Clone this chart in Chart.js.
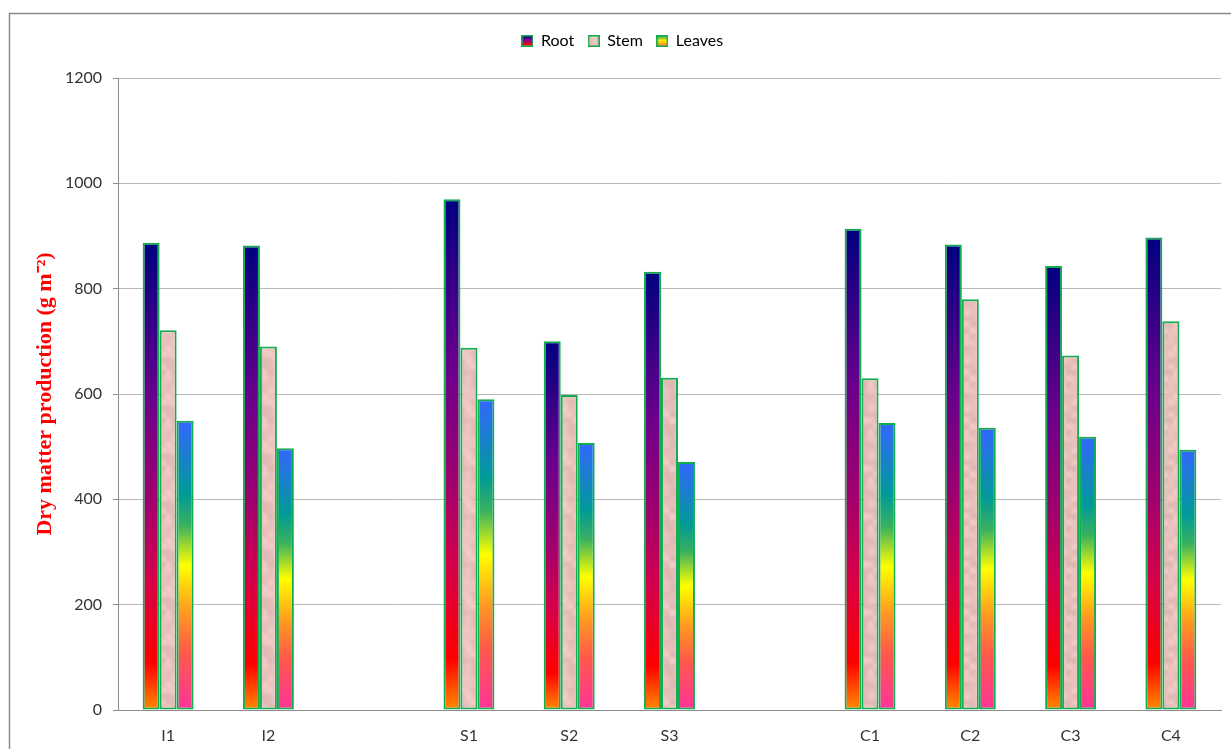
<!DOCTYPE html>
<html>
<head>
<meta charset="utf-8">
<script src="https://cdn.jsdelivr.net/npm/chart.js@4.4.1/dist/chart.umd.min.js"></script>
<style>
  html, body { margin: 0; padding: 0; background: #ffffff; }
  #wrap { width: 1231px; height: 749px; position: relative; }
</style>
</head>
<body>
<div id="wrap"><canvas id="chart" width="1231" height="749"></canvas></div>
<script>
// Treatments (empty slots separate the I, S and C groups)
const categories = ['I1', 'I2', '', 'S1', 'S2', 'S3', '', 'C1', 'C2', 'C3', 'C4'];
const seriesNames = ['Root', 'Stem', 'Leaves'];
// Dry matter production, g m-2
const rootValues   = [887, 882, null, 970, 700, 832, null, 914, 884, 843, 897];
const stemValues   = [721, 690, null, 688, 598, 631, null, 630, 780, 673, 738];
const leavesValues = [549, 497, null, 590, 507, 471, null, 545, 536, 519, 494];
const yMin = 0, yMax = 1200, yStep = 200;

const BORDER_GREEN = '#12ad50';
const ROOT_STOPS = [[0, '#000080'], [0.33, '#6a008c'], [0.55, '#a0006e'], [0.72, '#d5004a'], [0.9, '#ff0000'], [1, '#ff8c00']];
const LEAF_STOPS = [[0, '#3366ff'], [0.25, '#009a99'], [0.36, '#38b060'], [0.5, '#ffff00'], [0.66, '#ff9a20'], [0.8, '#ff5a4a'], [1, '#ff3399']];
const LEAF_SWATCH_STOPS = [[0, '#20a860'], [0.45, '#ffee00'], [1, '#ff7a30']];

// Soft mottled pink texture for the stem bars
function makeStemPattern() {
  const size = 48, cell = 6;
  const cv = document.createElement('canvas');
  cv.width = size; cv.height = size;
  const g = cv.getContext('2d');
  const img = g.createImageData(size, size);
  const n = size / cell;
  const hash = (x, y) => {
    const s = Math.sin(((x % n + n) % n) * 12.9898 + ((y % n + n) % n) * 78.233) * 43758.5453;
    return s - Math.floor(s);
  };
  const smooth = t => t * t * (3 - 2 * t);
  for (let y = 0; y < size; y++) {
    for (let x = 0; x < size; x++) {
      const gx = x / cell, gy = y / cell;
      const x0 = Math.floor(gx), y0 = Math.floor(gy);
      const tx = smooth(gx - x0), ty = smooth(gy - y0);
      const a = hash(x0, y0), b = hash(x0 + 1, y0), c = hash(x0, y0 + 1), d = hash(x0 + 1, y0 + 1);
      const v = (a * (1 - tx) + b * tx) * (1 - ty) + (c * (1 - tx) + d * tx) * ty;
      const k = (v - 0.5) * 22;
      const i = (y * size + x) * 4;
      img.data[i] = Math.min(255, 233 + k);
      img.data[i + 1] = Math.min(255, 194 + k);
      img.data[i + 2] = Math.min(255, 189 + k);
      img.data[i + 3] = 255;
    }
  }
  g.putImageData(img, 0, 0);
  return cv;
}
const stemTexture = makeStemPattern();
const stemPattern = document.getElementById('chart').getContext('2d').createPattern(stemTexture, 'repeat');

function addStops(grad, stops) {
  stops.forEach(([o, c]) => grad.addColorStop(o, c));
  return grad;
}

// Vertical gradient stretched over each bar's own height
function barGradient(stops) {
  return (ctx) => {
    const chart = ctx.chart;
    if (ctx.type !== 'data' || ctx.raw == null || !chart.chartArea) return stops[0][1];
    const y = chart.scales.y;
    const top = y.getPixelForValue(ctx.raw);
    const bottom = y.getPixelForValue(0);
    return addStops(chart.ctx.createLinearGradient(0, top, 0, bottom), stops);
  };
}

// Small legend swatches
function makeSwatch(fill) {
  const s = 12;
  const cv = document.createElement('canvas');
  cv.width = s; cv.height = s;
  const g = cv.getContext('2d');
  if (Array.isArray(fill)) {
    g.fillStyle = addStops(g.createLinearGradient(0, 1, 0, s - 1), fill);
  } else {
    g.fillStyle = g.createPattern(fill, 'repeat');
  }
  g.fillRect(1, 1, s - 2, s - 2);
  g.strokeStyle = BORDER_GREEN;
  g.lineWidth = 1.5;
  g.strokeRect(0.75, 0.75, s - 1.5, s - 1.5);
  return cv;
}
const swatches = [makeSwatch(ROOT_STOPS), makeSwatch(stemTexture), makeSwatch(LEAF_SWATCH_STOPS)];

// Extra room between the legend row and the plot
const LegendEl = Chart.registry.getPlugin('legend')._element;
const baseFit = LegendEl.prototype.fit;
LegendEl.prototype.fit = function () {
  baseFit.call(this);
  if (this.options.display && this.isHorizontal()) this.height += 19;
};

// Grey outline round the chart
const frame = {
  id: 'frame',
  beforeDraw(chart) {
    const c = chart.ctx;
    c.save();
    c.strokeStyle = '#8a8a8a';
    c.lineWidth = 1.5;
    c.strokeRect(9.5, 13.5, 1400, 900);
    c.restore();
  }
};

const barCommon = {
  borderColor: BORDER_GREEN,
  borderWidth: 2,
  borderSkipped: false,
  categoryPercentage: 0.508,
  barPercentage: 1.0
};

new Chart(document.getElementById('chart'), {
  type: 'bar',
  data: {
    labels: categories,
    datasets: [
      Object.assign({ label: seriesNames[0], data: rootValues, backgroundColor: barGradient(ROOT_STOPS) }, barCommon),
      Object.assign({ label: seriesNames[1], data: stemValues, backgroundColor: stemPattern }, barCommon),
      Object.assign({ label: seriesNames[2], data: leavesValues, backgroundColor: barGradient(LEAF_STOPS) }, barCommon)
    ]
  },
  options: {
    responsive: false,
    animation: false,
    devicePixelRatio: 1,
    layout: { padding: { left: 24, right: 10, top: 19, bottom: 4 } },
    plugins: {
      tooltip: { enabled: false },
      legend: {
        position: 'top',
        labels: {
          usePointStyle: true,
          boxWidth: 11,
          boxHeight: 11,
          padding: 14,
          color: '#1a1a1a',
          font: { family: 'Lato', size: 16 },
          generateLabels: (chart) => chart.data.datasets.map((ds, i) => ({
            text: ds.label,
            pointStyle: swatches[i],
            fillStyle: 'transparent',
            strokeStyle: 'transparent',
            lineWidth: 0,
            hidden: false,
            datasetIndex: i
          }))
        }
      }
    },
    scales: {
      x: {
        afterFit: (scale) => { scale.height = 35; },
        grid: { display: false, drawTicks: false },
        border: { display: true, color: '#8c8c8c', width: 1 },
        ticks: {
          autoSkip: false,
          maxRotation: 0,
          padding: 16,
          color: '#333333',
          font: { family: 'Lato', size: 16 }
        }
      },
      y: {
        min: yMin,
        max: yMax,
        afterFit: (scale) => { scale.width = 94; },
        grid: { color: '#b8b8b8', lineWidth: 1, drawTicks: true, tickLength: 5, tickColor: '#8c8c8c' },
        border: { display: true, color: '#8c8c8c', width: 1 },
        ticks: {
          stepSize: yStep,
          padding: 11,
          color: '#333333',
          font: { family: 'Lato', size: 16 },
          callback: (v) => String(v)
        },
        title: {
          display: true,
          text: 'Dry matter production (g m\u207B\u00B2)',
          color: '#ff0000',
          padding: { top: 8, bottom: 0 },
          font: { family: 'Liberation Serif', size: 22, weight: 'bold' }
        }
      }
    }
  },
  plugins: [frame]
});
</script>
</body>
</html>
